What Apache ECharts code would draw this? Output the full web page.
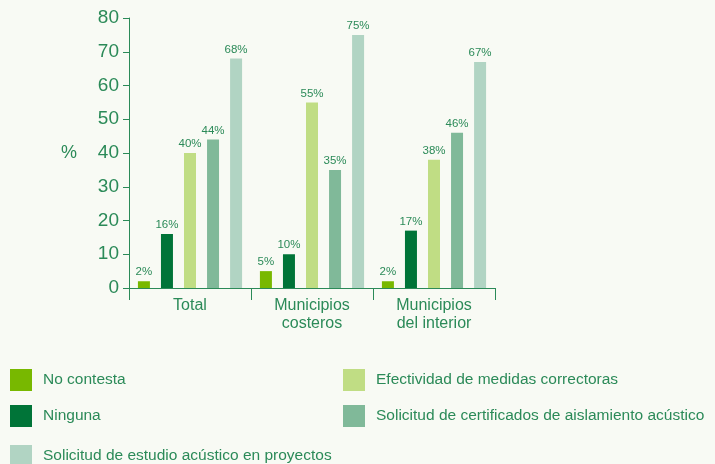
<!DOCTYPE html>
<html>
<head>
<meta charset="utf-8">
<script src="https://cdn.jsdelivr.net/npm/echarts@6/dist/echarts.min.js"></script>
<style>
  html, body { margin: 0; padding: 0; background: #f8faf4; }
  #main { width: 715px; height: 464px; }
</style>
</head>
<body>
<div id="main"></div>
<script>
// categorías y valores (%)
var categorias = ['Total', 'Municipios\ncosteros', 'Municipios\ndel interior']
var noContesta = [2, 5, 2]
var ninguna = [16, 10, 17]
var efectividad = [40, 55, 38]
var certificados = [44, 35, 46]
var estudio = [68, 75, 67]
var yTicks = [0, 10, 20, 30, 40, 50, 60, 70, 80]

var verde = '#2b8a58'
var fuente = '"Liberation Sans", sans-serif'

var nombres = [
  'No contesta',
  'Ninguna',
  'Efectividad de medidas correctoras',
  'Solicitud de certificados de aislamiento acústico',
  'Solicitud de estudio acústico en proyectos'
]
var colores = ['#78b800', '#007438', '#c0dd84', '#80b999', '#b1d4c3']
var datos = [noContesta, ninguna, efectividad, certificados, estudio]

// posición de cada entrada de la leyenda
var posLeyenda = [[10, 369], [10, 405], [343, 369], [343, 405], [10, 445]]

var myChart = echarts.init(document.getElementById('main'))

var series = datos.map(function (d, i) {
  return {
    name: nombres[i],
    type: 'bar',
    data: d,
    barWidth: 12,
    barGap: '92%',
    itemStyle: { color: colores[i] },
    label: {
      show: true,
      position: 'top',
      distance: 3,
      formatter: '{c}%',
      color: verde,
      fontSize: 11.5,
      fontFamily: fuente
    }
  }
})

var leyendas = nombres.map(function (n, i) {
  return {
    data: [n],
    left: posLeyenda[i][0],
    top: posLeyenda[i][1],
    padding: 0,
    itemWidth: 22,
    itemHeight: 22,
    icon: 'rect',
    selectedMode: false,
    textStyle: { color: verde, fontSize: 15.5, fontFamily: fuente, padding: [0, 0, 0, 6] }
  }
})

var option = {
  backgroundColor: '#f8faf4',
  animation: false,
  grid: { left: 129, top: 18, right: 220, bottom: 176 },
  legend: leyendas,
  xAxis: {
    type: 'category',
    data: categorias,
    axisLine: { lineStyle: { color: verde, width: 1 } },
    axisTick: { show: true, length: 12, lineStyle: { color: verde } },
    axisLabel: {
      color: verde,
      fontSize: 16,
      fontFamily: fuente,
      lineHeight: 18,
      margin: 9
    }
  },
  yAxis: {
    type: 'value',
    min: yTicks[0],
    max: yTicks[yTicks.length - 1],
    interval: 10,
    name: '%',
    nameLocation: 'middle',
    nameRotate: 0,
    nameGap: 52,
    nameTextStyle: { color: verde, fontSize: 18, fontFamily: fuente, padding: [5, 0, 0, 0] },
    axisLine: { show: true, lineStyle: { color: verde } },
    axisTick: { show: true, length: 6, lineStyle: { color: verde } },
    splitLine: { show: false },
    axisLabel: { color: verde, fontSize: 19, fontFamily: fuente, margin: 10 }
  },
  series: series
}

myChart.setOption(option)
</script>
</body>
</html>
